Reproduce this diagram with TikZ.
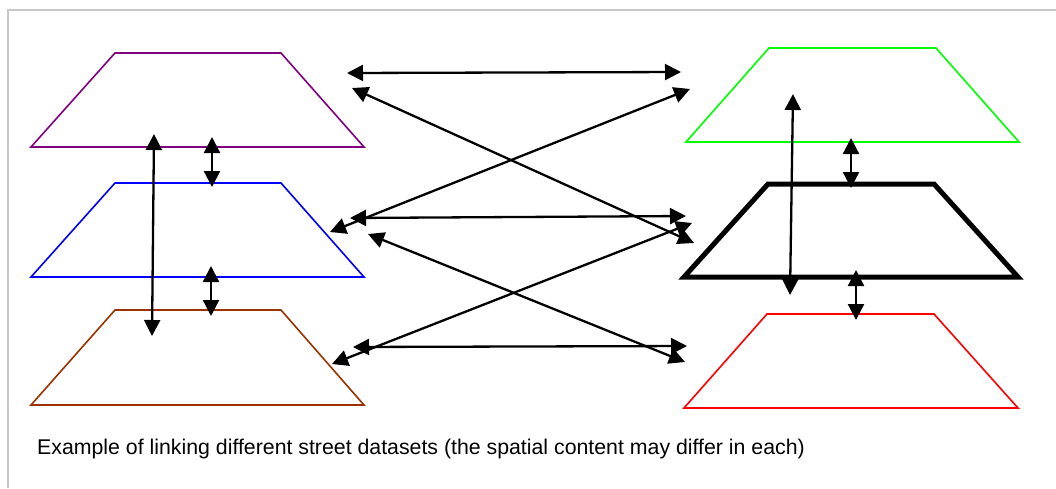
\documentclass[tikz,border=0pt]{standalone}
\usepackage{fontspec}
\setmainfont{Liberation Sans}
\usetikzlibrary{arrows.meta}
\definecolor{trapbrown}{RGB}{153,51,0}
\definecolor{framegray}{RGB}{200,200,200}
\tikzset{
  trap/.style={line width=1.6pt, line join=miter},
  link/.style={line width=2.3pt, {Triangle[length=16pt,width=16pt]}-{Triangle[length=16pt,width=16pt]}},
}
\begin{document}
\begin{tikzpicture}[x=1pt,y=-1pt]
\useasboundingbox (0,0) rectangle (1056,488);
\fill[white] (0,0) rectangle (1056,488);
% frame
\draw[framegray, line width=2pt] (8,488) -- (8,10) -- (1056,10);
% left trapezoids
\draw[trap, draw={rgb,255:red,128;green,0;blue,128}] (115,53) -- (281,53) -- (364,147) -- (31,147) -- cycle;
\draw[trap, blue] (115,183) -- (281,183) -- (364,277) -- (31,277) -- cycle;
\draw[trap, trapbrown] (115,310) -- (281,310) -- (364,405) -- (31,405) -- cycle;
% right trapezoids
\draw[trap, green] (769,48) -- (936,48) -- (1019,142) -- (686,142) -- cycle;
\draw[line width=5pt, line join=miter, black] (768,184) -- (934,184) -- (1018,277) -- (684,277) -- cycle;
\draw[trap, red] (767,314) -- (934,314) -- (1018,408) -- (684,408) -- cycle;
% endpoints
\coordinate (lv1) at (152,336); \coordinate (lv2) at (154,134);
\coordinate (pb1) at (212,137); \coordinate (pb2) at (212,187);
\coordinate (bb1) at (211,266); \coordinate (bb2) at (211,316);
\coordinate (rv1) at (790,295); \coordinate (rv2) at (793,94);
\coordinate (gk1) at (851,138); \coordinate (gk2) at (851,188);
\coordinate (kr1) at (856,270); \coordinate (kr2) at (856,320);
\coordinate (h1a) at (347,73); \coordinate (h1b) at (681,72);
\coordinate (d1a) at (352,88); \coordinate (d1b) at (694,243);
\coordinate (d2a) at (330,232); \coordinate (d2b) at (690,89);
\coordinate (h2a) at (350,218); \coordinate (h2b) at (686,216);
\coordinate (d3a) at (368,234); \coordinate (d3b) at (685,362);
\coordinate (d4a) at (332,364); \coordinate (d4b) at (692,223);
\coordinate (h3a) at (353,347); \coordinate (h3b) at (687,346);
% links
\draw[link] (lv1) -- (lv2);
\draw[link] (pb1) -- (pb2);
\draw[link] (bb1) -- (bb2);
\draw[link] (rv1) -- (rv2);
\draw[link] (gk1) -- (gk2);
\draw[link] (kr1) -- (kr2);
\draw[link] (h1a) -- (h1b);
\draw[link] (d1a) -- (d1b);
\draw[link] (d2a) -- (d2b);
\draw[link] (h2a) -- (h2b);
\draw[link] (d3a) -- (d3b);
\draw[link] (d4a) -- (d4b);
\draw[link] (h3a) -- (h3b);
% caption
\node[anchor=base west, inner sep=0pt, font=\fontsize{21.3}{25}\selectfont] (cap) at (37,454) {Example of linking different street datasets (the spatial content may differ in each)};
\end{tikzpicture}
\end{document}
